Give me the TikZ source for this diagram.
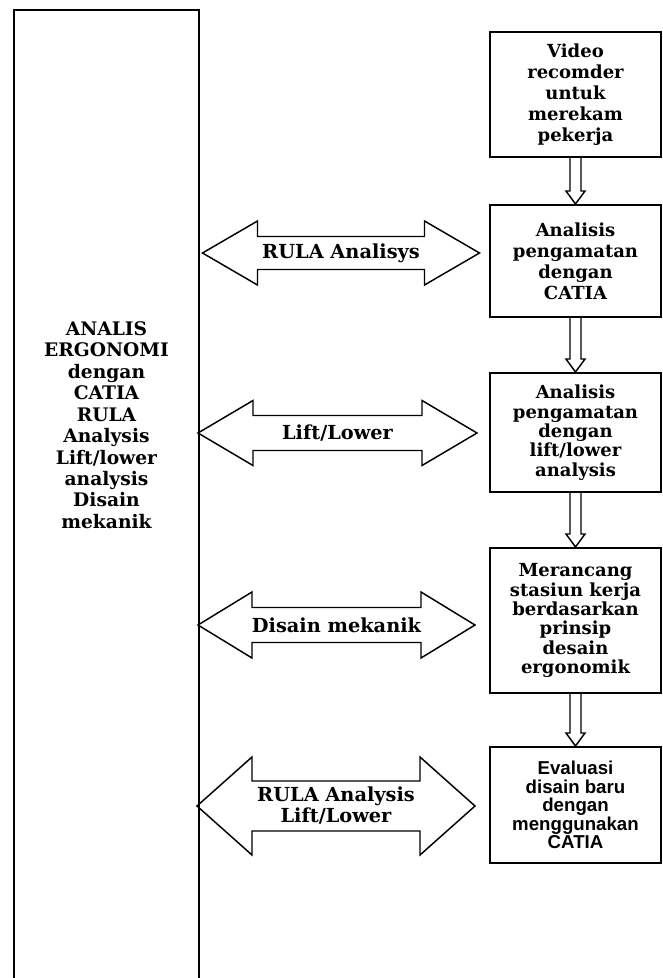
\documentclass[tikz,border=0pt]{standalone}
\usepackage{fontspec}
\setmainfont{DejaVu Serif}
\setsansfont{Liberation Sans}
\usetikzlibrary{calc}
\tikzset{
  kotak/.style={draw,line width=1.5pt,minimum width=128.25pt,inner sep=1pt,align=center,
    font=\bfseries\fontsize{13.5}{15.75}\selectfont},
  tulisan/.style={align=center,inner sep=1pt,font=\bfseries\fontsize{14.5}{15.75}\selectfont},
  panah/.style={line width=1.1pt,line join=miter},
}
% block arrow down, from box #1 to box #2
\newcommand{\turun}[2]{%
  \draw[panah] ($(#1.south)+(-5.5,0)$) -- ($(#2.north)+(-5.5,-13)$) -- ($(#2.north)+(-9.5,-13)$)
    -- (#2.north) -- ($(#2.north)+(9.5,-13)$) -- ($(#2.north)+(5.5,-13)$) -- ($(#1.south)+(5.5,0)$);}
% double block arrow round label #1: half length, head half, shaft half, head length
\newcommand{\panahganda}[5]{%
  \draw[panah] ($(#1)+(-#2,0)$) -- ($(#1)+({-#2+#5},-#3)$) -- ($(#1)+({-#2+#5},-#4)$)
    -- ($(#1)+({#2-#5},-#4)$) -- ($(#1)+({#2-#5},-#3)$) -- ($(#1)+(#2,0)$)
    -- ($(#1)+({#2-#5},#3)$) -- ($(#1)+({#2-#5},#4)$) -- ($(#1)+({-#2+#5},#4)$)
    -- ($(#1)+({-#2+#5},#3)$) -- cycle;}
\begin{document}
\begin{tikzpicture}[x=0.75pt,y=-0.75pt]
\useasboundingbox (0,0) rectangle (663,978);
%
\node[draw,line width=1.5pt,minimum width=138.4pt,minimum height=731.25pt] (kiri) at (106.75,497.5) {};
\node[tulisan,font=\bfseries\fontsize{14}{16.1}\selectfont] (ergo) at (106.5,425)
  {ANALIS\\ERGONOMI\\dengan\\CATIA\\RULA\\Analysis\\Lift/lower\\analysis\\Disain\\mekanik};
%
\node[kotak,minimum height=93.75pt] (rekam) at (575.5,94.5) {Video\\recomder\\untuk\\merekam\\pekerja};
\node[kotak,minimum height=84pt] (catia) at (575.5,261) {Analisis\\pengamatan\\dengan\\CATIA};
\node[kotak,minimum height=89.25pt,font=\bfseries\fontsize{13.5}{14.5}\selectfont] (angkat) at (575.5,432.5)
  {Analisis\\pengamatan\\dengan\\lift/lower\\analysis};
\node[kotak,minimum height=108.75pt,font=\bfseries\fontsize{13.5}{14.5}\selectfont] (rancang) at (575.5,620.5)
  {Merancang\\stasiun kerja\\berdasarkan\\prinsip\\desain\\ergonomik};
\node[kotak,minimum height=87pt,font=\sffamily\bfseries\fontsize{14}{13.8}\selectfont] (evaluasi) at (575.5,805)
  {Evaluasi\\disain baru\\dengan\\menggunakan\\CATIA};
%
\turun{rekam}{catia}
\turun{catia}{angkat}
\turun{angkat}{rancang}
\turun{rancang}{evaluasi}
%
\node[tulisan] (lrula) at (341,253) {RULA Analisys};
\node[tulisan] (llift) at (337.5,433) {Lift/Lower};
\node[tulisan] (ldisain) at (336.5,625) {Disain mekanik};
\node[tulisan] (lakhir) at (336,806) {RULA Analysis\\Lift/Lower};
\panahganda{lrula}{138.5}{32}{16.5}{55}
\panahganda{llift}{139.5}{32.5}{17.5}{55}
\panahganda{ldisain}{138.5}{33}{17.5}{54}
\panahganda{lakhir}{139}{49}{25}{55}
\end{tikzpicture}
\end{document}
